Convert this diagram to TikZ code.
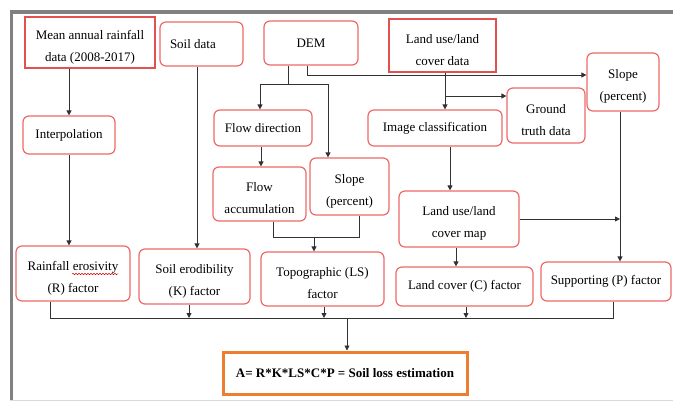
\documentclass[tikz,border=0pt]{standalone}
\usepackage{fontspec}
\setmainfont{Liberation Serif}
\usetikzlibrary{arrows.meta,calc,decorations.pathmorphing}
\definecolor{boxred}{RGB}{238,104,104}
\definecolor{rectred}{RGB}{226,80,80}
\definecolor{linec}{RGB}{50,50,50}
\definecolor{frameg}{RGB}{128,128,128}
\definecolor{orangeb}{RGB}{237,125,49}
\newcommand\tstrut{\rule{0pt}{18pt}}
\begin{document}
\begin{tikzpicture}[x=1pt,y=-1pt,
  base/.style={align=center, inner sep=0pt, font=\fontsize{13}{22}\selectfont, text=black},
  rbox/.style={base, draw=boxred, line width=1.2pt, rounded corners=6pt},
  sbox/.style={base, draw=rectred, line width=1.2pt},
  ln/.style={draw=linec, line width=0.8pt},
  arr/.style={ln, -{Triangle[length=5pt,width=5pt]}},
  sz/.style 2 args={minimum width=#1pt, minimum height=#2pt},
]
\useasboundingbox (0,0) rectangle (673,401);
\draw[frameg, line width=3.5pt] (11.5,401) -- (11.5,12) -- (673,12);
\draw[gray!30, line width=0.8pt] (10,400) -- (673,400);

\node[sbox, sz={130}{51}] (rain) at (90,42.5) {\tstrut Mean annual rainfall\\data (2008-2017)};
\node[rbox, sz={83}{44}, align=flush left, text width=63pt] (soil) at (201.5,44) {Soil data};
\node[rbox, sz={94}{44}] (dem) at (311,43) {DEM};
\node[sbox, sz={107}{53}] (lucd) at (442.5,45.5) {\tstrut Land use/land\\cover data};
\node[rbox, sz={72}{58}] (slopeR) at (623,82) {\tstrut Slope\\(percent)};
\node[rbox, sz={78}{55}] (ground) at (546,115.5) {\tstrut Ground\\truth data};
\node[rbox, sz={134}{36}] (imgc) at (435,128) {Image classification};
\node[rbox, sz={92}{38}] (interp) at (69,135) {Interpolation};
\node[rbox, sz={98}{36}] (flowdir) at (263,128) {Flow direction};
\node[rbox, sz={93}{54}] (flowacc) at (259.5,194) {\tstrut Flow\\accumulation};
\node[rbox, sz={79}{57}] (slopeM) at (349.5,186.5) {\tstrut Slope\\(percent)};
\node[rbox, sz={120}{56}] (lumap) at (459,219) {\tstrut Land use/land\\cover map};
\node[rbox, sz={114}{55}] (rfac) at (73,273.5) {\tstrut Rainfall erosivity\\(R) factor};
\node[rbox, sz={111}{55}] (kfac) at (194.5,276.5) {\tstrut Soil erodibility\\(K) factor};
\node[rbox, sz={123}{54}] (lsfac) at (322.5,279) {\tstrut Topographic (LS)\\factor};
\node[rbox, sz={137}{39}] (cfac) at (464.5,286.5) {Land cover (C) factor};
\node[rbox, sz={130}{39}] (pfac) at (606,281.5) {Supporting (P) factor};
\node[base, draw=orangeb, line width=3pt, sz={244}{42}, font=\fontsize{13}{22}\selectfont\bfseries] (formula) at (345,373) {A= R*K*LS*C*P = Soil loss estimation};

% spell-check squiggle
\draw[red!85!black, line width=0.5pt, decorate, decoration={snake, amplitude=0.7pt, segment length=3pt}] ($(rfac.center)+(-1,0.5)$) -- ++(46,0);

% DEM branches
\coordinate (cA) at (288,84);
\coordinate (cL) at (260,84);
\coordinate (cR) at (328,84);
\draw[ln] (dem.south -| cA) -- (cA);
\draw[arr] (cR) -- (cL) -- (flowdir.north -| cL);
\draw[arr] (cR) -- (slopeM.north -| cR);
\coordinate (cB) at (307,75);
\draw[arr] (dem.south -| cB) |- (slopeR.west |- cB);

% left columns
\draw[arr] (rain.south -| interp.north) -- (interp.north);
\draw[arr] (interp.south) -- (interp.south |- rfac.north);
\coordinate (cs) at (197,0);
\draw[arr] (soil.south -| cs) -- (kfac.north -| cs);

% land use
\coordinate (cl) at (445,96);
\draw[arr] (lucd.south -| cl) -- (imgc.north -| cl);
\draw[arr] (cl) -- (ground.west |- cl);
\coordinate (ci) at (450,0);
\draw[arr] (imgc.south -| ci) -- (lumap.north -| ci);
\coordinate (cm) at (456,0);
\draw[arr] (lumap.south -| cm) -- (cfac.north -| cm);

% flow
\coordinate (cf) at (261,0);
\draw[arr] (flowdir.south -| cf) -- (flowacc.north -| cf);
\coordinate (ca) at (273,237);
\coordinate (cb) at (359,237);
\coordinate (cc) at (314,237);
\draw[ln] (flowacc.south -| ca) -- (ca) -- (cb) -- (slopeM.south -| cb);
\draw[arr] (cc) -- (lsfac.north -| cc);

% slope right / supporting
\coordinate (cp) at (620,219);
\draw[arr] (slopeR.south -| cp) -- (pfac.north -| cp);
\draw[arr] (lumap.east |- cp) -- (cp);

% bottom bus
\coordinate (b1) at (50,318);
\coordinate (b2) at (613,318);
\draw[ln] (rfac.south -| b1) -- (b1) -- (b2) -- (pfac.south -| b2);
\coordinate (bk) at (189,318);
\draw[arr] (kfac.south -| bk) -- (bk);
\coordinate (bl) at (324,318);
\draw[arr] (lsfac.south -| bl) -- (bl);
\coordinate (bc) at (466,318);
\draw[arr] (cfac.south -| bc) -- (bc);
\coordinate (bf) at (347,318);
\draw[arr] (bf) -- (formula.north -| bf);
\end{tikzpicture}
\end{document}
